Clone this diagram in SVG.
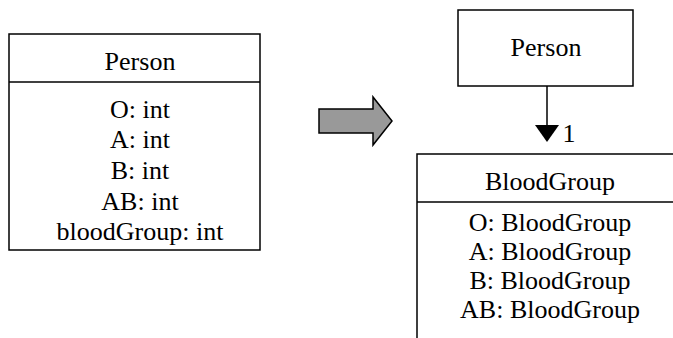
<svg xmlns="http://www.w3.org/2000/svg" width="673" height="338" viewBox="0 0 673 338">
<style>
.box{fill:#fff;stroke:#000;stroke-width:1.5}
.ln{stroke:#000;stroke-width:1.5;fill:none}
.t{font-family:'Liberation Serif','Times New Roman',Times,'DejaVu Serif',serif;font-size:26px;fill:#000;text-anchor:middle}
</style>
<defs>
<clipPath id="cl"><rect x="9" y="34" width="251" height="216"/></clipPath>
</defs>
<rect width="673" height="338" fill="#fff"/>
<g id="person-left">
<rect class="box" x="9" y="34" width="251" height="216"/>
<line class="ln" x1="9" y1="82" x2="260" y2="82"/>
<text class="t" x="140" y="70">Person</text>
<g clip-path="url(#cl)">
<text class="t" x="140" y="118">O: int</text>
<text class="t" x="140" y="148">A: int</text>
<text class="t" x="140" y="179">B: int</text>
<text class="t" x="140" y="210">AB: int</text>
<text class="t" x="140" y="240">bloodGroup: int</text>
</g>
</g>
<g id="transform-arrow">
<path d="M319,109 H373 V97 L392,121 L373,145 V133 H319 Z" fill="#999" stroke="#000" stroke-width="1.5"/>
</g>
<g id="person-right">
<rect class="box" x="458" y="10" width="175" height="76"/>
<text class="t" x="546" y="56">Person</text>
</g>
<g id="bloodgroup">
<rect class="box" x="417" y="154" width="270" height="200"/>
<line class="ln" x1="417" y1="202" x2="673" y2="202"/>
<text class="t" x="550" y="190">BloodGroup</text>
<text class="t" x="550" y="231">O: BloodGroup</text>
<text class="t" x="550" y="260">A: BloodGroup</text>
<text class="t" x="550" y="289">B: BloodGroup</text>
<text class="t" x="550" y="318">AB: BloodGroup</text>
</g>
<g id="connectors">
<line class="ln" x1="547" y1="86" x2="547" y2="126"/>
<path d="M535,125 H559 L547,142 Z" fill="#000"/>
<text class="t" x="569" y="142">1</text>
</g>
</svg>
